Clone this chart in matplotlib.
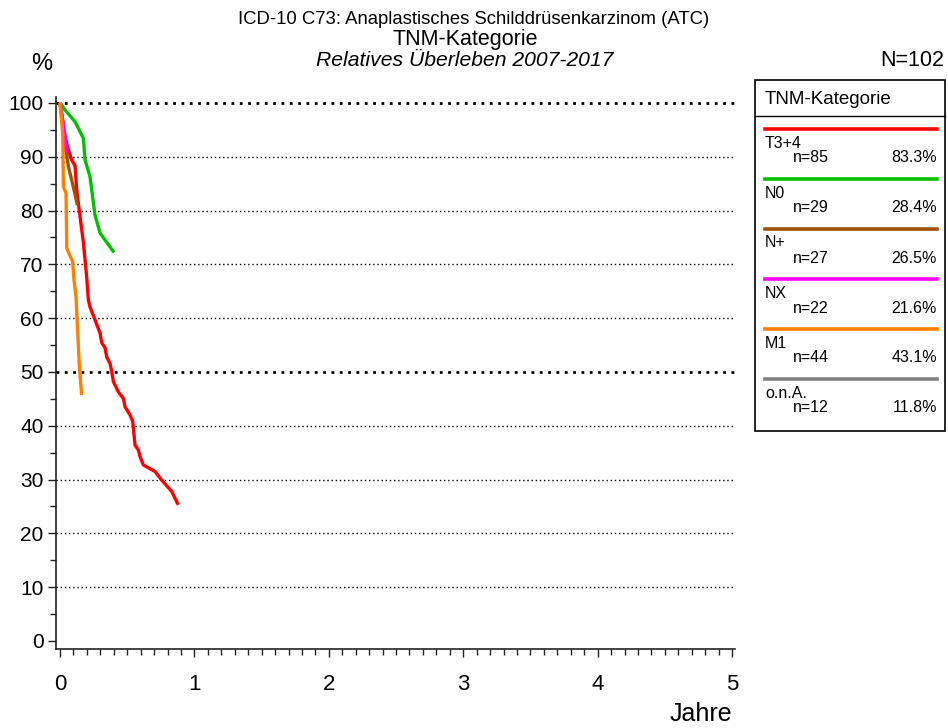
import matplotlib
matplotlib.use("Agg")
import matplotlib.pyplot as plt
from matplotlib.lines import Line2D
from matplotlib.patches import Rectangle
from matplotlib.ticker import MultipleLocator

plt.rcParams['font.family'] = ['Liberation Sans', 'DejaVu Sans']

# ---- data ----
categories = ["T3+4", "N0", "N+", "NX", "M1", "o.n.A."]
counts = [85, 29, 27, 22, 44, 12]
shares = ["83.3%", "28.4%", "26.5%", "21.6%", "43.1%", "11.8%"]
colors = ["#ff0000", "#00c000", "#a0520a", "#ff00ff", "#ff8000", "#808080"]

t3_t = [0, 0.04, 0.062, 0.087, 0.112, 0.124, 0.149, 0.174, 0.198, 0.211, 0.223, 0.26,
        0.298, 0.31, 0.335, 0.347, 0.372, 0.385, 0.397, 0.434, 0.471, 0.484, 0.521,
        0.541, 0.558, 0.583, 0.595, 0.62, 0.707, 0.756, 0.831, 0.856, 0.88]
t3_s = [100, 93.5, 91.3, 89.4, 88.3, 83.8, 78.9, 74.0, 67.7, 63.4, 62.1, 59.7,
        57.2, 55.4, 54.5, 52.8, 51.6, 50.0, 48.2, 46.3, 45.1, 43.5, 42.0,
        40.8, 36.4, 35.5, 34.3, 32.7, 31.5, 29.9, 27.8, 26.5, 25.3]

n0_t = [0, 0.037, 0.112, 0.174, 0.186, 0.223, 0.26, 0.298, 0.402]
n0_s = [100, 98.7, 96.5, 93.4, 89.4, 86.3, 79.2, 75.8, 72.2]

np_t = [0, 0.045, 0.062, 0.099, 0.129]
np_s = [100, 91.0, 88.2, 84.4, 81.0]

nx_t = [0, 0.03, 0.05]
nx_s = [100, 95.0, 90.7]

m1_t = [0, 0.02, 0.025, 0.045, 0.05, 0.094, 0.104, 0.119, 0.132, 0.144, 0.161]
m1_s = [100, 94.4, 84.4, 83.2, 73.0, 70.5, 67.1, 64.0, 57.2, 51.0, 45.7]

series_t = [t3_t, n0_t, np_t, nx_t, m1_t]
series_s = [t3_s, n0_s, np_s, nx_s, m1_s]

grid_levels = [10, 20, 30, 40, 50, 60, 70, 80, 90, 100]
y_ticks = [0, 10, 20, 30, 40, 50, 60, 70, 80, 90, 100]
x_ticks = [0, 1, 2, 3, 4, 5]

# ---- figure ----
W, H = 948, 728
fig = plt.figure(figsize=(W / 100, H / 100), dpi=100)

def fx(px):
    return px / W

def fy(py):
    return 1 - py / H

ax = fig.add_axes([fx(56), fy(649), fx(735) - fx(56), fy(97) - fy(649)])
ax.set_xlim(-0.03, 5.022)
ax.set_ylim(-1.49, 101.1)

for s in ["top", "right"]:
    ax.spines[s].set_visible(False)
for s in ["left", "bottom"]:
    ax.spines[s].set_linewidth(1.2)
    ax.spines[s].set_color("#222222")

for g in grid_levels:
    lw = 2.0 if g in (50, 100) else 1.0
    ax.axhline(g, color="black", lw=lw, ls=(0, (1, 2)), zorder=1)

for tt, ss, c in zip(series_t, series_s, colors):
    ax.plot(tt, ss, color=c, lw=2.4, solid_joinstyle="round", solid_capstyle="butt", zorder=3)

ax.set_yticks(y_ticks)
ax.set_yticklabels([str(v) for v in y_ticks])
ax.yaxis.set_minor_locator(MultipleLocator(5))
ax.set_xticks(x_ticks)
ax.set_xticklabels([str(v) for v in x_ticks])
ax.xaxis.set_minor_locator(MultipleLocator(0.1))

ax.tick_params(axis="y", which="major", length=6, width=1, direction="out", labelsize=15, pad=3, color="#222222")
ax.tick_params(axis="y", which="minor", length=4, width=1, direction="out", color="#222222")
ax.tick_params(axis="x", which="major", length=6, width=1, direction="out", labelsize=16, pad=12, color="#222222")
ax.tick_params(axis="x", which="minor", length=4, width=1, direction="out", color="#222222")

# ---- titles ----
fig.text(fx(474), fy(20), "ICD-10 C73: Anaplastisches Schilddrüsenkarzinom (ATC)", ha="center", va="center", fontsize=13.3)
fig.text(fx(465), fy(40), "TNM-Kategorie", ha="center", va="center", fontsize=15.5)
fig.text(fx(465), fy(60), "Relatives Überleben 2007-2017", ha="center", va="center", fontsize=15.2, style="italic")
fig.text(fx(944), fy(61), "N=102", ha="right", va="center", fontsize=15.5)
fig.text(fx(42), fy(64), "%", ha="center", va="center", fontsize=17)
fig.text(fx(732), fy(714), "Jahre", ha="right", va="center", fontsize=18)

# ---- legend box ----
bx0, by0, bx1, by1 = 755, 80, 945, 431
fig.add_artist(Rectangle((fx(bx0), fy(by1)), fx(bx1) - fx(bx0), fy(by0) - fy(by1),
                         transform=fig.transFigure, fill=False, edgecolor="black", lw=1.2))
fig.add_artist(Line2D([fx(bx0), fx(bx1)], [fy(116), fy(116)], transform=fig.transFigure, color="black", lw=1.0))
fig.text(fx(765), fy(99), "TNM-Kategorie", ha="left", va="center", fontsize=13.5)

for i, (cat, n, sh, c) in enumerate(zip(categories, counts, shares, colors)):
    y0 = 129 + i * 50
    fig.add_artist(Line2D([fx(765), fx(937)], [fy(y0), fy(y0)], transform=fig.transFigure, color=c, lw=2.6))
    fig.text(fx(765), fy(y0 + 14), cat, ha="left", va="center", fontsize=11.5)
    fig.text(fx(793), fy(y0 + 29), "n=%d" % n, ha="left", va="center", fontsize=11.5)
    fig.text(fx(937), fy(y0 + 29), sh, ha="right", va="center", fontsize=11.5)

fig.savefig("out.png", dpi=100)
